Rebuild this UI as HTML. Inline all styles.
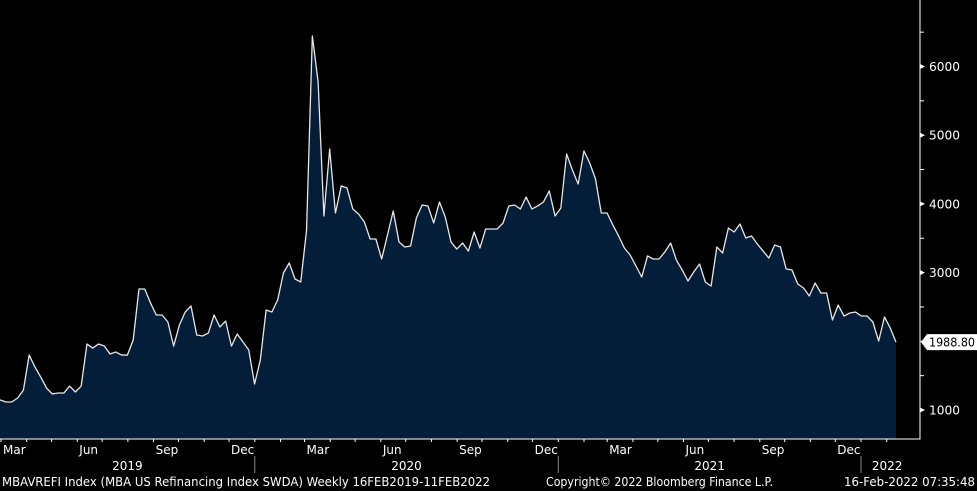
<!DOCTYPE html>
<html><head><meta charset="utf-8"><style>
html,body{margin:0;padding:0;background:#000;width:977px;height:491px;overflow:hidden}
svg{display:block;font-family:"DejaVu Sans","Liberation Sans",sans-serif}
</style></head><body>
<svg id="chart" width="977" height="491" viewBox="0 0 977 491"></svg>
<script>
const values = [1160,1146,1116,1116,1175,1290,1800,1626,1480,1320,1233,1247,1247,1349,1262,1349,1960,1902,1960,1931,1815,1844,1800,1800,2019,2761,2761,2557,2383,2383,2281,1931,2237,2426,2514,2092,2077,2120,2383,2208,2295,1931,2106,1990,1873,1378,1728,2455,2426,2601,2994,3140,2907,2863,
3620,6444,5774,3824,4799,3868,4261,4231,3926,3853,3737,3489,3489,3198,3547,3897,3445,3373,3387,3795,3984,3970,3722,4028,3810,3445,3343,3431,3314,3591,3358,3635,3635,3635,3722,3970,3984,3926,4100,3926,3970,4028,4188,3824,3940,4726,4494,4290,
4770,4595,4362,3868,3868,3693,3533,3358,3256,3096,2936,3242,3198,3198,3300,3431,3183,3038,2878,3009,3125,2863,2805,3373,3285,3649,3591,3707,3504,3533,3416,3314,3212,3402,3373,3052,3038,2834,2776,2660,2849,2703,2703,2310,2528,2368,2412,2426,2368,2368,2281,2004,2354,2194,1988.8];
const yTickValues = [1000,3000,4000,5000,6000];
const yMinorValues = [1500,2000,2500,3500,4500,5500,6500];
const monthLabels = ["Mar","","","Jun","","","Sep","","","Dec","","","Mar","","","Jun","","","Sep","","","Dec","","","Mar","","","Jun","","","Sep","","","Dec","",""];
const yearLabels = ["2019","2020","2021","2022"];
const lastLabel = "1988.80";

const NS="http://www.w3.org/2000/svg";
const svg=document.getElementById('chart');
function mk(tag,attrs,parent){const e=document.createElementNS(NS,tag);for(const k in attrs)e.setAttribute(k,attrs[k]);(parent||svg).appendChild(e);return e;}
const AX=920, AY=439;
function y(v){return 410-(v-1000)*0.0687;}
const pxDay=0.8293;
const X0=-5.5, X1=896;
function xIdx(i){return X0+i*(X1-X0)/(values.length-1);}
function xDays(d){return 1+d*pxDay;}

let d='M'+xIdx(0)+','+AY;
values.forEach((v,i)=>{d+=' L'+xIdx(i).toFixed(2)+','+y(v).toFixed(2);});
d+=' L'+xIdx(values.length-1).toFixed(2)+','+AY+' Z';
const area=mk('path',{d:d,fill:'#041d39'});


let ld='';
values.forEach((v,i)=>{ld+=(i?' L':'M')+xIdx(i).toFixed(2)+','+y(v).toFixed(2);});
const line=mk('path',{d:ld,fill:'none',stroke:'#e6e6e6','stroke-width':1.3,'stroke-linejoin':'round'});



const ax=mk('path',{d:`M${AX},0 V${AY} H0`,fill:'none',stroke:'#fff','stroke-width':1});



yMinorValues.forEach(v=>{
  const t=mk('line',{x1:AX,x2:AX+4,y1:y(v),y2:y(v),stroke:'#fff','stroke-width':1});
  
  
});
yTickValues.forEach(v=>{
  const t=mk('path',{d:`M${AX},${y(v)-2.5} L${AX+5},${y(v)} L${AX},${y(v)+2.5} Z`,fill:'#fff'});
  
  
  const tx=mk('text',{x:AX+9,y:y(v)+4.5,fill:'#fff','font-size':12,textLength:31,lengthAdjust:'spacingAndGlyphs'});
  tx.textContent=v;
  
  
});

const ly=y(values[values.length-1]);
const box=mk('path',{d:`M${AX+1},${ly} L${AX+7},${ly-8} H977 V${ly+8} H${AX+7} Z`,fill:'#fff'});


const lt=mk('text',{x:AX+9,y:ly+4.5,fill:'#000','font-size':12,textLength:46,lengthAdjust:'spacingAndGlyphs'});
lt.textContent=lastLabel;



const monthDays=[];const base=Date.UTC(2019,2,1);
for(let k=0;k<monthLabels.length;k++){monthDays.push((Date.UTC(2019,2+k,1)-base)/86400000);}
monthDays.forEach((dd,k)=>{
  const x=xDays(dd); if(x>AX)return;
  const t=mk('line',{x1:x,x2:x,y1:AY,y2:AY+3,stroke:'#fff','stroke-width':1});
  
  
  if(monthLabels[k]){
    const tx=mk('text',{x:x+2,y:454,fill:'#fff','font-size':12});
    tx.textContent=monthLabels[k];
    
    
  }
});
const yearStart=[-59,306,672,1037];
const yearEnd=[306,672,1037,1100];
yearLabels.forEach((yl,i)=>{
  const a=Math.max(0,xDays(yearStart[i])), b=Math.min(AX,xDays(yearEnd[i]));
  const tx=mk('text',{x:(a+b)/2,y:470,fill:'#fff','font-size':12,'text-anchor':'middle'});
  tx.textContent=yl;
  
  
  if(i>0){
    const s=mk('line',{x1:xDays(yearStart[i]),x2:xDays(yearStart[i]),y1:456,y2:473,stroke:'#888','stroke-width':1});
    
    
  }
});
const f1=mk('text',{x:2,y:486,fill:'#fff','font-size':12,textLength:488,lengthAdjust:'spacingAndGlyphs'});
f1.textContent="MBAVREFI Index (MBA US Refinancing Index SWDA)  Weekly 16FEB2019-11FEB2022";


const f2=mk('text',{x:546,y:486,fill:'#fff','font-size':12,textLength:227,lengthAdjust:'spacingAndGlyphs'});
f2.textContent="Copyright\u00a9 2022 Bloomberg Finance L.P.";


const f3=mk('text',{x:844,y:486,fill:'#fff','font-size':12,textLength:131,lengthAdjust:'spacingAndGlyphs'});
f3.textContent="16-Feb-2022 07:35:48";


</script>
</body></html>
